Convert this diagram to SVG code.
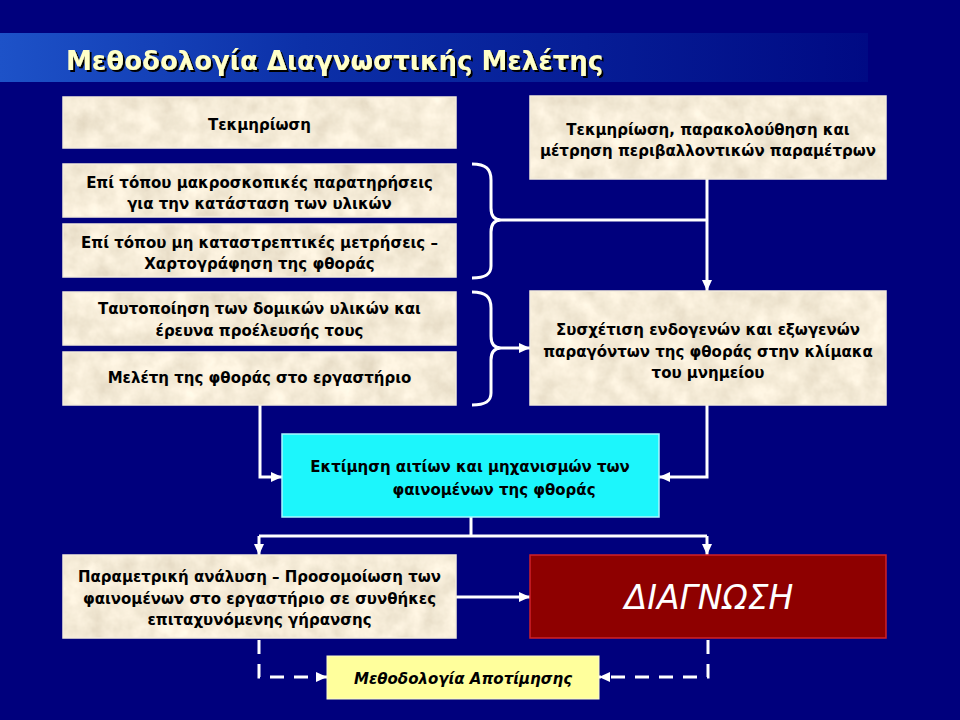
<svg xmlns="http://www.w3.org/2000/svg" width="960" height="720" viewBox="0 0 960 720">
<defs>
<linearGradient id="band" x1="0" y1="0" x2="1" y2="0">
<stop offset="0" stop-color="#1d52c8"/>
<stop offset="0.35" stop-color="#0c30a8"/>
<stop offset="1" stop-color="#000a84"/>
</linearGradient>
<filter id="paper" x="0" y="0" width="1" height="1">
<feTurbulence type="fractalNoise" baseFrequency="0.045" numOctaves="4" seed="3" result="n"/>
<feColorMatrix in="n" type="matrix" values="0.35 0 0 0 0.74  0.35 0 0 0 0.66  0.35 0 0 0 0.51  0 0 0 0 1" result="c"/>
<feComposite in="c" in2="SourceAlpha" operator="in"/>
</filter>
<filter id="shadow" x="-5%" y="-30%" width="110%" height="160%">
<feDropShadow dx="2" dy="2" stdDeviation="0.6" flood-color="#000000" flood-opacity="1"/>
</filter>
<marker id="ah" markerUnits="userSpaceOnUse" markerWidth="11" markerHeight="10" refX="11" refY="5" orient="auto">
<path d="M0,0 L11,5 L0,10 z" fill="#ffffff"/>
</marker>
</defs>
<style>
.bg{fill:#00007d}
.paper{fill:#e4d2a8;filter:url(#paper)}
.edge{fill:none;stroke:#f3ecdc;stroke-width:1.5}
.t{font-family:"DejaVu Sans","Noto Sans",sans-serif;font-size:15px;font-weight:bold;fill:#000;text-anchor:middle}
.ln{fill:none;stroke:#ffffff;stroke-width:3}
.dash{fill:none;stroke:#ffffff;stroke-width:3;stroke-dasharray:14 10}
</style>
<rect class="bg" x="0" y="0" width="960" height="720"/>
<rect x="0" y="33" width="868" height="49" fill="url(#band)"/>
<g id="title">
<text x="66" y="70" font-family="DejaVu Sans, sans-serif" font-size="26" font-weight="bold" fill="#ffffc8" filter="url(#shadow)">Μεθοδολογία Διαγνωστικής Μελέτης</text>
</g>

<g id="connectors">
<path class="ln" d="M472,164 C486,164 491,169 491,180 L491,208 C491,216 494,220 501,220 C494,220 491,224 491,232 L491,266 C491,274 486,278 472,278"/>
<path class="ln" d="M472,292 C486,292 491,297 491,308 L491,336 C491,344 494,348 501,348 C494,348 491,352 491,360 L491,393 C491,401 486,405 472,405"/>
<path class="ln" d="M501,220 L707,220"/>
<path class="ln" d="M707,179 L707,291" marker-end="url(#ah)"/>
<path class="ln" d="M501,348 L530,348" marker-end="url(#ah)"/>
<path class="ln" d="M260,405 L260,477 L282,477" marker-end="url(#ah)"/>
<path class="ln" d="M707,405 L707,477 L659,477" marker-end="url(#ah)"/>
<path class="ln" d="M471,517 L471,536"/>
<path class="ln" d="M259,536 L707,536"/>
<path class="ln" d="M259,536 L259,555" marker-end="url(#ah)"/>
<path class="ln" d="M707,536 L707,555" marker-end="url(#ah)"/>
<path class="ln" d="M456,597 L530,597" marker-end="url(#ah)"/>
<path class="dash" d="M259,640 L259,677 L327,677" marker-end="url(#ah)"/>
<path class="dash" d="M708,640 L708,677 L599,677" marker-end="url(#ah)"/>
</g>

<g id="n1">
<rect class="paper" x="63" y="97" width="393" height="51"/>
<rect class="edge" x="63" y="97" width="393" height="51"/>
<text class="t" x="259.5" y="130">Τεκμηρίωση</text>
</g>
<g id="n2">
<rect class="paper" x="63" y="164" width="393" height="53"/>
<rect class="edge" x="63" y="164" width="393" height="53"/>
<text class="t" x="259.5" y="188">Επί τόπου μακροσκοπικές παρατηρήσεις</text>
<text class="t" x="259.5" y="209">για την κατάσταση των υλικών</text>
</g>
<g id="n3">
<rect class="paper" x="63" y="224" width="393" height="53"/>
<rect class="edge" x="63" y="224" width="393" height="53"/>
<text class="t" x="259.5" y="248">Επί τόπου μη καταστρεπτικές μετρήσεις –</text>
<text class="t" x="259.5" y="269">Χαρτογράφηση της φθοράς</text>
</g>
<g id="n4">
<rect class="paper" x="63" y="292" width="393" height="53"/>
<rect class="edge" x="63" y="292" width="393" height="53"/>
<text class="t" x="259.5" y="314">Ταυτοποίηση των δομικών υλικών και</text>
<text class="t" x="259.5" y="336">έρευνα προέλευσής τους</text>
</g>
<g id="n5">
<rect class="paper" x="63" y="352" width="393" height="53"/>
<rect class="edge" x="63" y="352" width="393" height="53"/>
<text class="t" x="259.5" y="383">Μελέτη της φθοράς στο εργαστήριο</text>
</g>
<g id="r1">
<rect class="paper" x="530" y="96" width="356" height="83"/>
<rect class="edge" x="530" y="96" width="356" height="83"/>
<text class="t" x="708" y="135">Τεκμηρίωση,  παρακολούθηση και</text>
<text class="t" x="708" y="156">μέτρηση περιβαλλοντικών παραμέτρων</text>
</g>
<g id="r2">
<rect class="paper" x="530" y="291" width="356" height="114"/>
<rect class="edge" x="530" y="291" width="356" height="114"/>
<text class="t" x="708" y="335">Συσχέτιση ενδογενών και εξωγενών</text>
<text class="t" x="708" y="357">παραγόντων της φθοράς στην κλίμακα</text>
<text class="t" x="708" y="378">του μνημείου</text>
</g>
<g id="cyan">
<rect x="282" y="434" width="377" height="83" fill="#1cf6fc" stroke="#a8f8ff" stroke-width="1.5"/>
<text class="t" x="470" y="472">Εκτίμηση αιτίων και μηχανισμών των</text>
<text class="t" x="494" y="495">φαινομένων της φθοράς</text>
</g>
<g id="param">
<rect class="paper" x="63" y="555" width="393" height="83"/>
<rect class="edge" x="63" y="555" width="393" height="83"/>
<text class="t" x="259.5" y="582">Παραμετρική ανάλυση – Προσομοίωση των</text>
<text class="t" x="259.5" y="604">φαινομένων στο εργαστήριο σε συνθήκες</text>
<text class="t" x="259.5" y="625">επιταχυνόμενης γήρανσης</text>
</g>
<g id="diag">
<rect x="530" y="555" width="356" height="83" fill="#8e0000" stroke="#d0202a" stroke-width="1.5"/>
<text x="709" y="609" font-family="DejaVu Sans, sans-serif" font-size="33" font-style="italic" fill="#ffffff" text-anchor="middle">ΔΙΑΓΝΩΣΗ</text>
</g>
<g id="eval">
<rect x="327" y="656" width="272" height="43" fill="#ffff9c" stroke="#fbfbd0" stroke-width="1"/>
<text class="t" x="463" y="684" style="font-style:italic">Μεθοδολογία Αποτίμησης</text>
</g>
</svg>
